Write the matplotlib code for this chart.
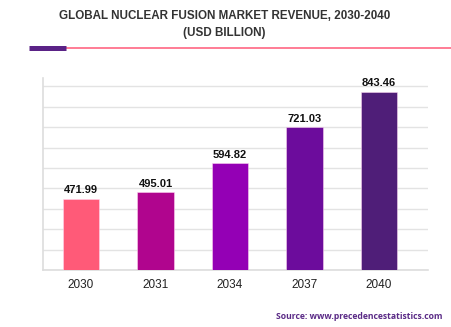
import numpy as np
import matplotlib
matplotlib.use('Agg')
import matplotlib.pyplot as plt
from matplotlib.lines import Line2D

# %% Data
years = ['2030', '2031', '2034', '2037', '2040']
revenue = [471.99, 495.01, 594.82, 721.03, 843.46]
bar_colors = ['#FF5A78', '#B0058E', '#9400B5', '#6C0C9C', '#4F1E78']

# %% Figure
plt.rcParams['font.family'] = ['Liberation Sans', 'DejaVu Sans']
fig = plt.figure(figsize=(4.52, 3.27), dpi=100)
ax = fig.add_axes([0.0951, 0.1743, 0.852, 0.587])

x = np.arange(len(years))
bars = ax.bar(x, revenue, width=0.49, bottom=0, color=bar_colors,
              edgecolor=(1, 0.85, 0.95, 0.6), linewidth=0.6, zorder=3)

# value labels above bars
for xi, val in zip(x, revenue):
    ax.annotate(f'{val:.2f}', (xi, val), xytext=(0, 2.5), textcoords='offset points',
                ha='center', va='bottom', fontsize=8.0, fontweight='bold', color='#111111')

# axis styling
ybase = 225
ystep = 70.8
ax.set_ylim(ybase, ybase + 192 / 0.2883)
ax.set_xlim(-0.51, 4.66)
ax.set_yticks(ybase + ystep * np.arange(10))
ax.set_yticklabels([])
ax.tick_params(axis='y', length=0)
ax.tick_params(axis='x', length=0, pad=6.5, labelsize=8.5, labelcolor='#222222')
ax.set_xticks(x)
ax.set_xticklabels(years)
ax.grid(axis='y', color='#e3e3e3', linewidth=1.0, zorder=0)
for side in ['top', 'right']:
    ax.spines[side].set_visible(False)
ax.spines['left'].set_color('#dddddd')
ax.spines['bottom'].set_color('#dddddd')
ax.spines['left'].set_linewidth(1.2)
ax.spines['bottom'].set_linewidth(1.2)

# %% Title and decorations
fig.text(0.496, 0.952, 'GLOBAL NUCLEAR FUSION MARKET REVENUE, 2030-2040',
         ha='center', va='center', fontsize=8.4, fontweight='bold', color='#333333')
fig.text(0.496, 0.898, '(USD BILLION)',
         ha='center', va='center', fontsize=8.4, fontweight='bold', color='#333333')
fig.add_artist(Line2D([66 / 452, 1.0], [1 - 47.7 / 327] * 2, color='#FF6683',
                      linewidth=1.2, transform=fig.transFigure))
fig.add_artist(Line2D([29 / 452, 66 / 452], [1 - 47.7 / 327] * 2, color='#5A2286',
                      linewidth=3.6, solid_capstyle='butt', transform=fig.transFigure))

fig.text(0.978, 0.031, 'Source: www.precedencestatistics.com', ha='right', va='center',
         fontsize=6.2, fontweight='bold', color='#5A2A86', family=['Open Sans', 'DejaVu Sans'])

fig.savefig('out.png', dpi=100)
